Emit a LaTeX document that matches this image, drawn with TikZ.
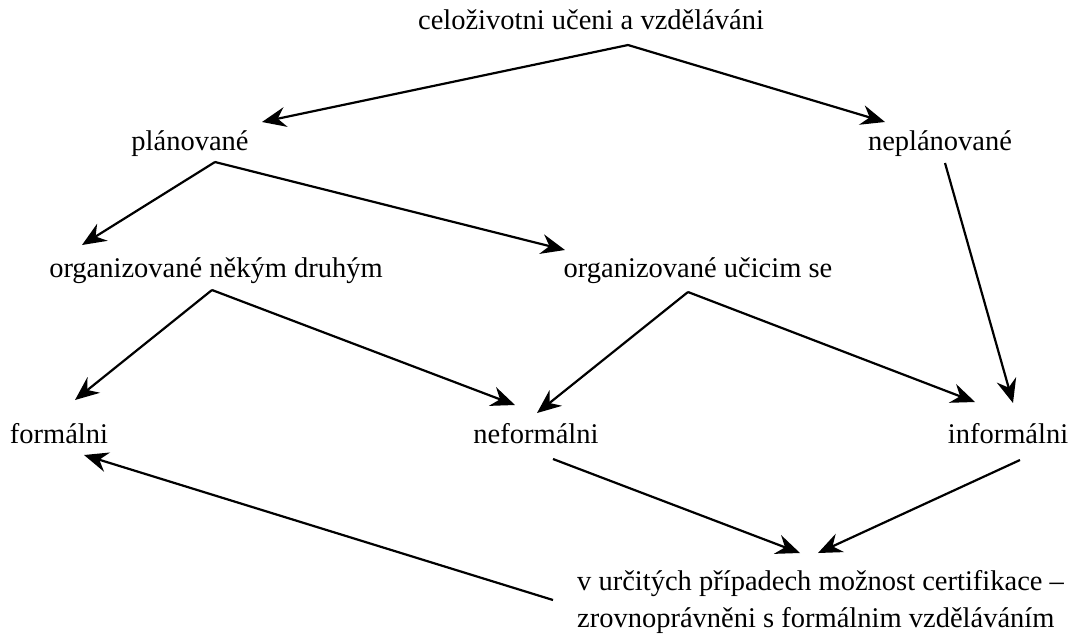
\documentclass[tikz,border=0pt]{standalone}
\usepackage{fontspec}
\setmainfont{Liberation Serif}
\usetikzlibrary{arrows.meta}
\begin{document}
\begin{tikzpicture}[x=1pt,y=1pt,
  lbl/.style={font=\fontsize{28.5}{37}\selectfont, inner sep=0pt, anchor=base},
  arr/.style={line width=2.2pt, -{Stealth[length=24pt,width=20pt,inset=8pt]}}]
\useasboundingbox (0,0) rectangle (1083,-633);
\node[lbl] (top) at (591,-29) {celoživotni učeni a vzděláváni};
\node[lbl] (plan) at (190,-150) {plánované};
\node[lbl] (neplan) at (940,-150) {neplánované};
\node[lbl] (ond) at (216,-277) {organizované někým druhým};
\node[lbl] (ous) at (698,-277) {organizované učicim se};
\node[lbl] (form) at (59,-443) {formálni};
\node[lbl] (neform) at (536,-443) {neformálni};
\node[lbl] (inform) at (1008,-443) {informálni};
\node[lbl, anchor=base west, align=left] (cert) at (577,-627) {v určitých případech možnost certifikace –\\zrovnoprávněni s formálnim vzděláváním};

\draw[arr] ([shift={(37,-16)}]top.base) -- ([shift={(72,28)}]plan.base);
\draw[arr] ([shift={(37,-16)}]top.base) -- ([shift={(-55,28)}]neplan.base);
\draw[arr] ([shift={(25,-12)}]plan.base) -- ([shift={(-134,32)}]ond.base);
\draw[arr] ([shift={(25,-12)}]plan.base) -- ([shift={(-133,27)}]ous.base);
\draw[arr] ([shift={(5,-13)}]neplan.base) -- ([shift={(5,40)}]inform.base);
\draw[arr] ([shift={(-4,-13)}]ond.base) -- ([shift={(16,43)}]form.base);
\draw[arr] ([shift={(-4,-13)}]ond.base) -- ([shift={(-21,38)}]neform.base);
\draw[arr] ([shift={(-10,-15)}]ous.base) -- ([shift={(1,30)}]neform.base);
\draw[arr] ([shift={(-10,-15)}]ous.base) -- ([shift={(-33,41)}]inform.base);
\draw[arr] ([shift={(17,-16)}]neform.base) -- ([shift={(223,74)}]cert.base west);
\draw[arr] ([shift={(12,-17)}]inform.base) -- ([shift={(241,74)}]cert.base west);
\draw[arr] ([shift={(-24,27)}]cert.base west) -- ([shift={(25,-12)}]form.base);
\end{tikzpicture}
\end{document}
